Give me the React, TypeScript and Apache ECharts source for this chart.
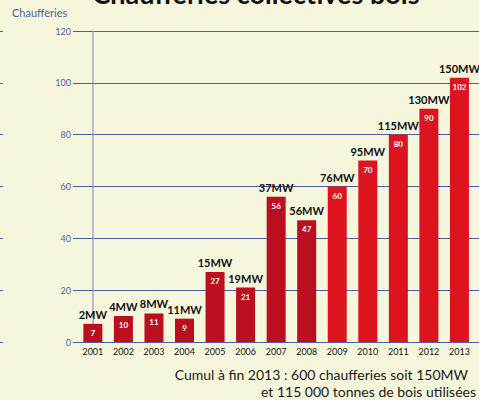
import React, { useEffect, useRef } from "react";
import * as echarts from "echarts";

const years = ["2001","2002","2003","2004","2005","2006","2007","2008","2009","2010","2011","2012","2013"];
const counts = [7, 10, 11, 9, 27, 21, 56, 47, 60, 70, 80, 90, 102];
const powerLabels = ["2MW","4MW","8MW","11MW","15MW","19MW","37MW","56MW","76MW","95MW","115MW","130MW","150MW"];
const darkYears = 8; // first 8 years in darker red
const yTicks = [0, 20, 40, 60, 80, 100, 120];

const FONT = "Lato, 'Open Sans', sans-serif";
const BG = "#f6f6dd";
const BLUE = "#4a5fae";

export default function App() {
  const ref = useRef<HTMLDivElement>(null);
  useEffect(() => {
    if (!ref.current) return;
    const chart = echarts.init(ref.current, undefined, { renderer: "svg" });
    const barData = counts.map((v, i) => ({
      value: [i, v],
      itemStyle: { color: i < darkYears ? "#bb0e1f" : "#dd141d" },
    }));
    chart.setOption({
      animation: false,
      backgroundColor: BG,
      grid: { left: 73, right: 0, top: 31, bottom: 58, containLabel: false },
      xAxis: {
        type: "value",
        min: -0.65,
        max: 12.64,
        splitLine: { show: false },
        axisLine: { show: true, lineStyle: { color: BLUE, width: 1 } },
        axisTick: { show: false },
        axisLabel: {
          customValues: years.map((_, i) => i),
          formatter: (v: number) => years[Math.round(v)] ?? "",
          color: "#111",
          fontSize: 9,
          fontFamily: FONT,
          margin: 5,
        },
      },
      yAxis: [
        {
          type: "value",
          min: yTicks[0],
          max: yTicks[yTicks.length - 1],
          interval: 20,
          axisLine: { show: true, lineStyle: { color: "#a3a8c4", width: 1.5 } },
          axisTick: { show: true, length: 6, lineStyle: { color: BLUE } },
          splitLine: { show: true, lineStyle: { color: BLUE, width: 1 } },
          axisLabel: { color: BLUE, fontSize: 9, fontFamily: FONT, margin: 2 },
        },
        {
          type: "value",
          min: yTicks[0],
          max: yTicks[yTicks.length - 1],
          interval: 20,
          position: "left",
          offset: 70,
          axisLine: { show: false },
          axisTick: { show: true, length: 3, lineStyle: { color: BLUE } },
          splitLine: { show: false },
          axisLabel: { show: false },
        },
      ],
      series: [
        {
          type: "bar",
          data: barData,
          barWidth: 19,
          label: {
            show: true,
            position: "insideTop",
            distance: 5,
            formatter: (p: any) => String(p.value[1]),
            color: "#fff",
            fontSize: 8,
            fontWeight: "bold",
            fontFamily: FONT,
          },
        },
        {
          type: "bar",
          data: counts.map((v, i) => [i, v]),
          barWidth: 19,
          barGap: "-100%",
          itemStyle: { color: "rgba(0,0,0,0)" },
          silent: true,
          label: {
            show: true,
            position: "top",
            distance: 4,
            formatter: (p: any) => powerLabels[p.dataIndex],
            color: "#111",
            fontSize: 11,
            fontWeight: "bold",
            fontFamily: FONT,
          },
          z: 3,
        },
      ],
      graphic: [
        {
          type: "text",
          x: 256,
          y: -20,
          style: {
            text: "Chaufferies collectives bois",
            fontSize: 27,
            fontWeight: "bold",
            fontFamily: FONT,
            fill: "#111",
            align: "center",
            verticalAlign: "top",
          },
        },
        {
          type: "text",
          left: 12,
          top: 7,
          style: { text: "Chaufferies", fontSize: 11, fontFamily: FONT, fill: BLUE },
        },
        {
          type: "text",
          right: 11,
          top: 367,
          style: {
            text: "Cumul à fin 2013 : 600 chaufferies soit 150MW",
            fontSize: 14,
            fontFamily: FONT,
            fill: "#1a1a1a",
          },
        },
        {
          type: "text",
          right: 3,
          top: 384,
          style: {
            text: "et 115 000 tonnes de bois utilisées",
            fontSize: 14,
            fontFamily: FONT,
            fill: "#1a1a1a",
          },
        },
      ],
    });
    return () => chart.dispose();
  }, []);
  return (
    <div
      ref={ref}
      style={{ position: "fixed", left: 0, top: 0, width: 479, height: 400, background: BG }}
    />
  );
}
